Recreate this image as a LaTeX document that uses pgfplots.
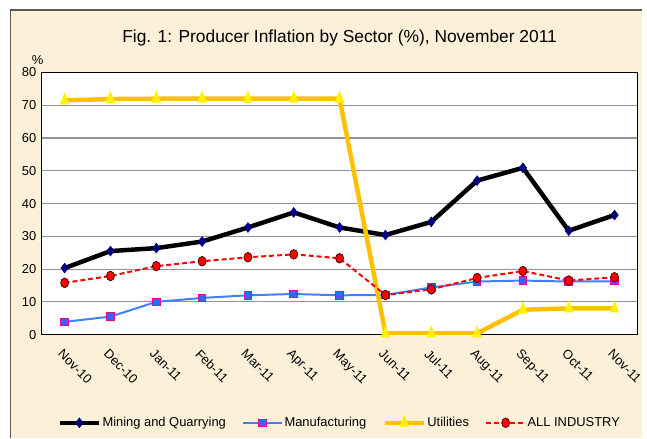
\documentclass[border=0pt]{standalone}
\usepackage{fontspec}
\setmainfont{Liberation Sans}
\usepackage{pgfplots}
\pgfplotsset{compat=1.18}
\definecolor{bgbeige}{HTML}{FCF0D8}
\definecolor{manuline}{HTML}{4080FF}
\definecolor{manufill}{HTML}{3366FF}
\definecolor{utilline}{HTML}{FFC000}
\definecolor{navyd}{HTML}{000080}
\begin{document}
\begin{tikzpicture}[x=1pt,y=1pt]
\fill[white] (0,0) rectangle (647,441);
\fill[bgbeige] (10.5,0) rectangle (647,431);
\draw[gray!70!black, line width=1.2pt] (10.5,0) -- (10.5,431) -- (647,431);
\node[font=\fontsize{17.5}{17.5}\selectfont] at (342,403) {Fig. 1: Producer Inflation by Sector (\%), November 2011};
\node[font=\fontsize{13}{13}\selectfont] at (38,381) {\%};
\begin{axis}[
  at={(42pt,104pt)}, anchor=south west,
  scale only axis, width=600pt, height=264pt,
  xmin=-0.5, xmax=12.5, ymin=0, ymax=80,
  ytick={0,10,...,80},
  xtick={0,...,12},
  xticklabels={Nov-10,Dec-10,Jan-11,Feb-11,Mar-11,Apr-11,May-11,Jun-11,Jul-11,Aug-11,Sep-11,Oct-11,Nov-11},
  x tick label style={xshift=-1pt, yshift=-9pt, rotate=-45, anchor=north west, font=\fontsize{13}{13}\selectfont},
  y tick label style={font=\fontsize{13}{13}\selectfont},
  /pgf/number format/assume math mode=true,
  ymajorgrids,
  grid style={gray!85, line width=1.1pt},
  axis line style={black, line width=1pt},
  major tick length=0pt,
  yticklabel style={xshift=-2pt},
  axis background/.style={fill=white},
  legend style={at={(0.5,-0.335)}, anchor=center, draw=none, fill=none,
     font=\fontsize{13}{13}\selectfont, nodes={inner sep=1.5pt},
     /tikz/every even column/.append style={column sep=15pt}},
  legend columns=4,
  legend image code/.code={
     \draw[mark repeat=2,mark phase=2,#1] plot coordinates {(0pt,0pt) (19.5pt,0pt) (39pt,0pt)};
  },
]
\addplot[black, line width=4.5pt, mark=diamond*, mark size=5pt,
  mark options={fill=navyd, draw=navyd, line width=0.5pt, solid}]
  coordinates {(0,20.3) (1,25.5) (2,26.4) (3,28.4) (4,32.7) (5,37.3) (6,32.7) (7,30.4) (8,34.4) (9,47.0) (10,50.9) (11,31.7) (12,36.5)};
\addlegendentry{Mining and Quarrying}
\addplot[manuline, line width=2pt, mark=square*, mark size=3.8pt,
  mark options={fill=manufill, draw=magenta, line width=1pt, solid}]
  coordinates {(0,3.9) (1,5.5) (2,10.0) (3,11.2) (4,12.0) (5,12.4) (6,12.0) (7,12.1) (8,14.4) (9,16.2) (10,16.5) (11,16.2) (12,16.3)};
\addlegendentry{Manufacturing}
\addplot[utilline, line width=4.5pt, mark=triangle*, mark size=4.5pt,
  mark options={fill=yellow, draw=yellow, line width=0.3pt, solid, xscale=1.15, yscale=1.7}]
  coordinates {(0,71.5) (1,71.9) (2,72) (3,72) (4,72) (5,72) (6,72) (7,0.4) (8,0.4) (9,0.4) (10,7.6) (11,8.0) (12,8.0)};
\addlegendentry{Utilities}
\addplot[red, line width=2pt, dashed, dash pattern=on 5pt off 3pt, mark=*, mark size=4pt,
  mark options={fill=red, draw=black!70!red, line width=0.8pt, solid, yscale=1.2}]
  coordinates {(0,15.8) (1,17.9) (2,20.9) (3,22.4) (4,23.6) (5,24.5) (6,23.3) (7,12.1) (8,13.8) (9,17.3) (10,19.4) (11,16.5) (12,17.5)};
\addlegendentry{ALL INDUSTRY}
\end{axis}
\end{tikzpicture}
\end{document}
